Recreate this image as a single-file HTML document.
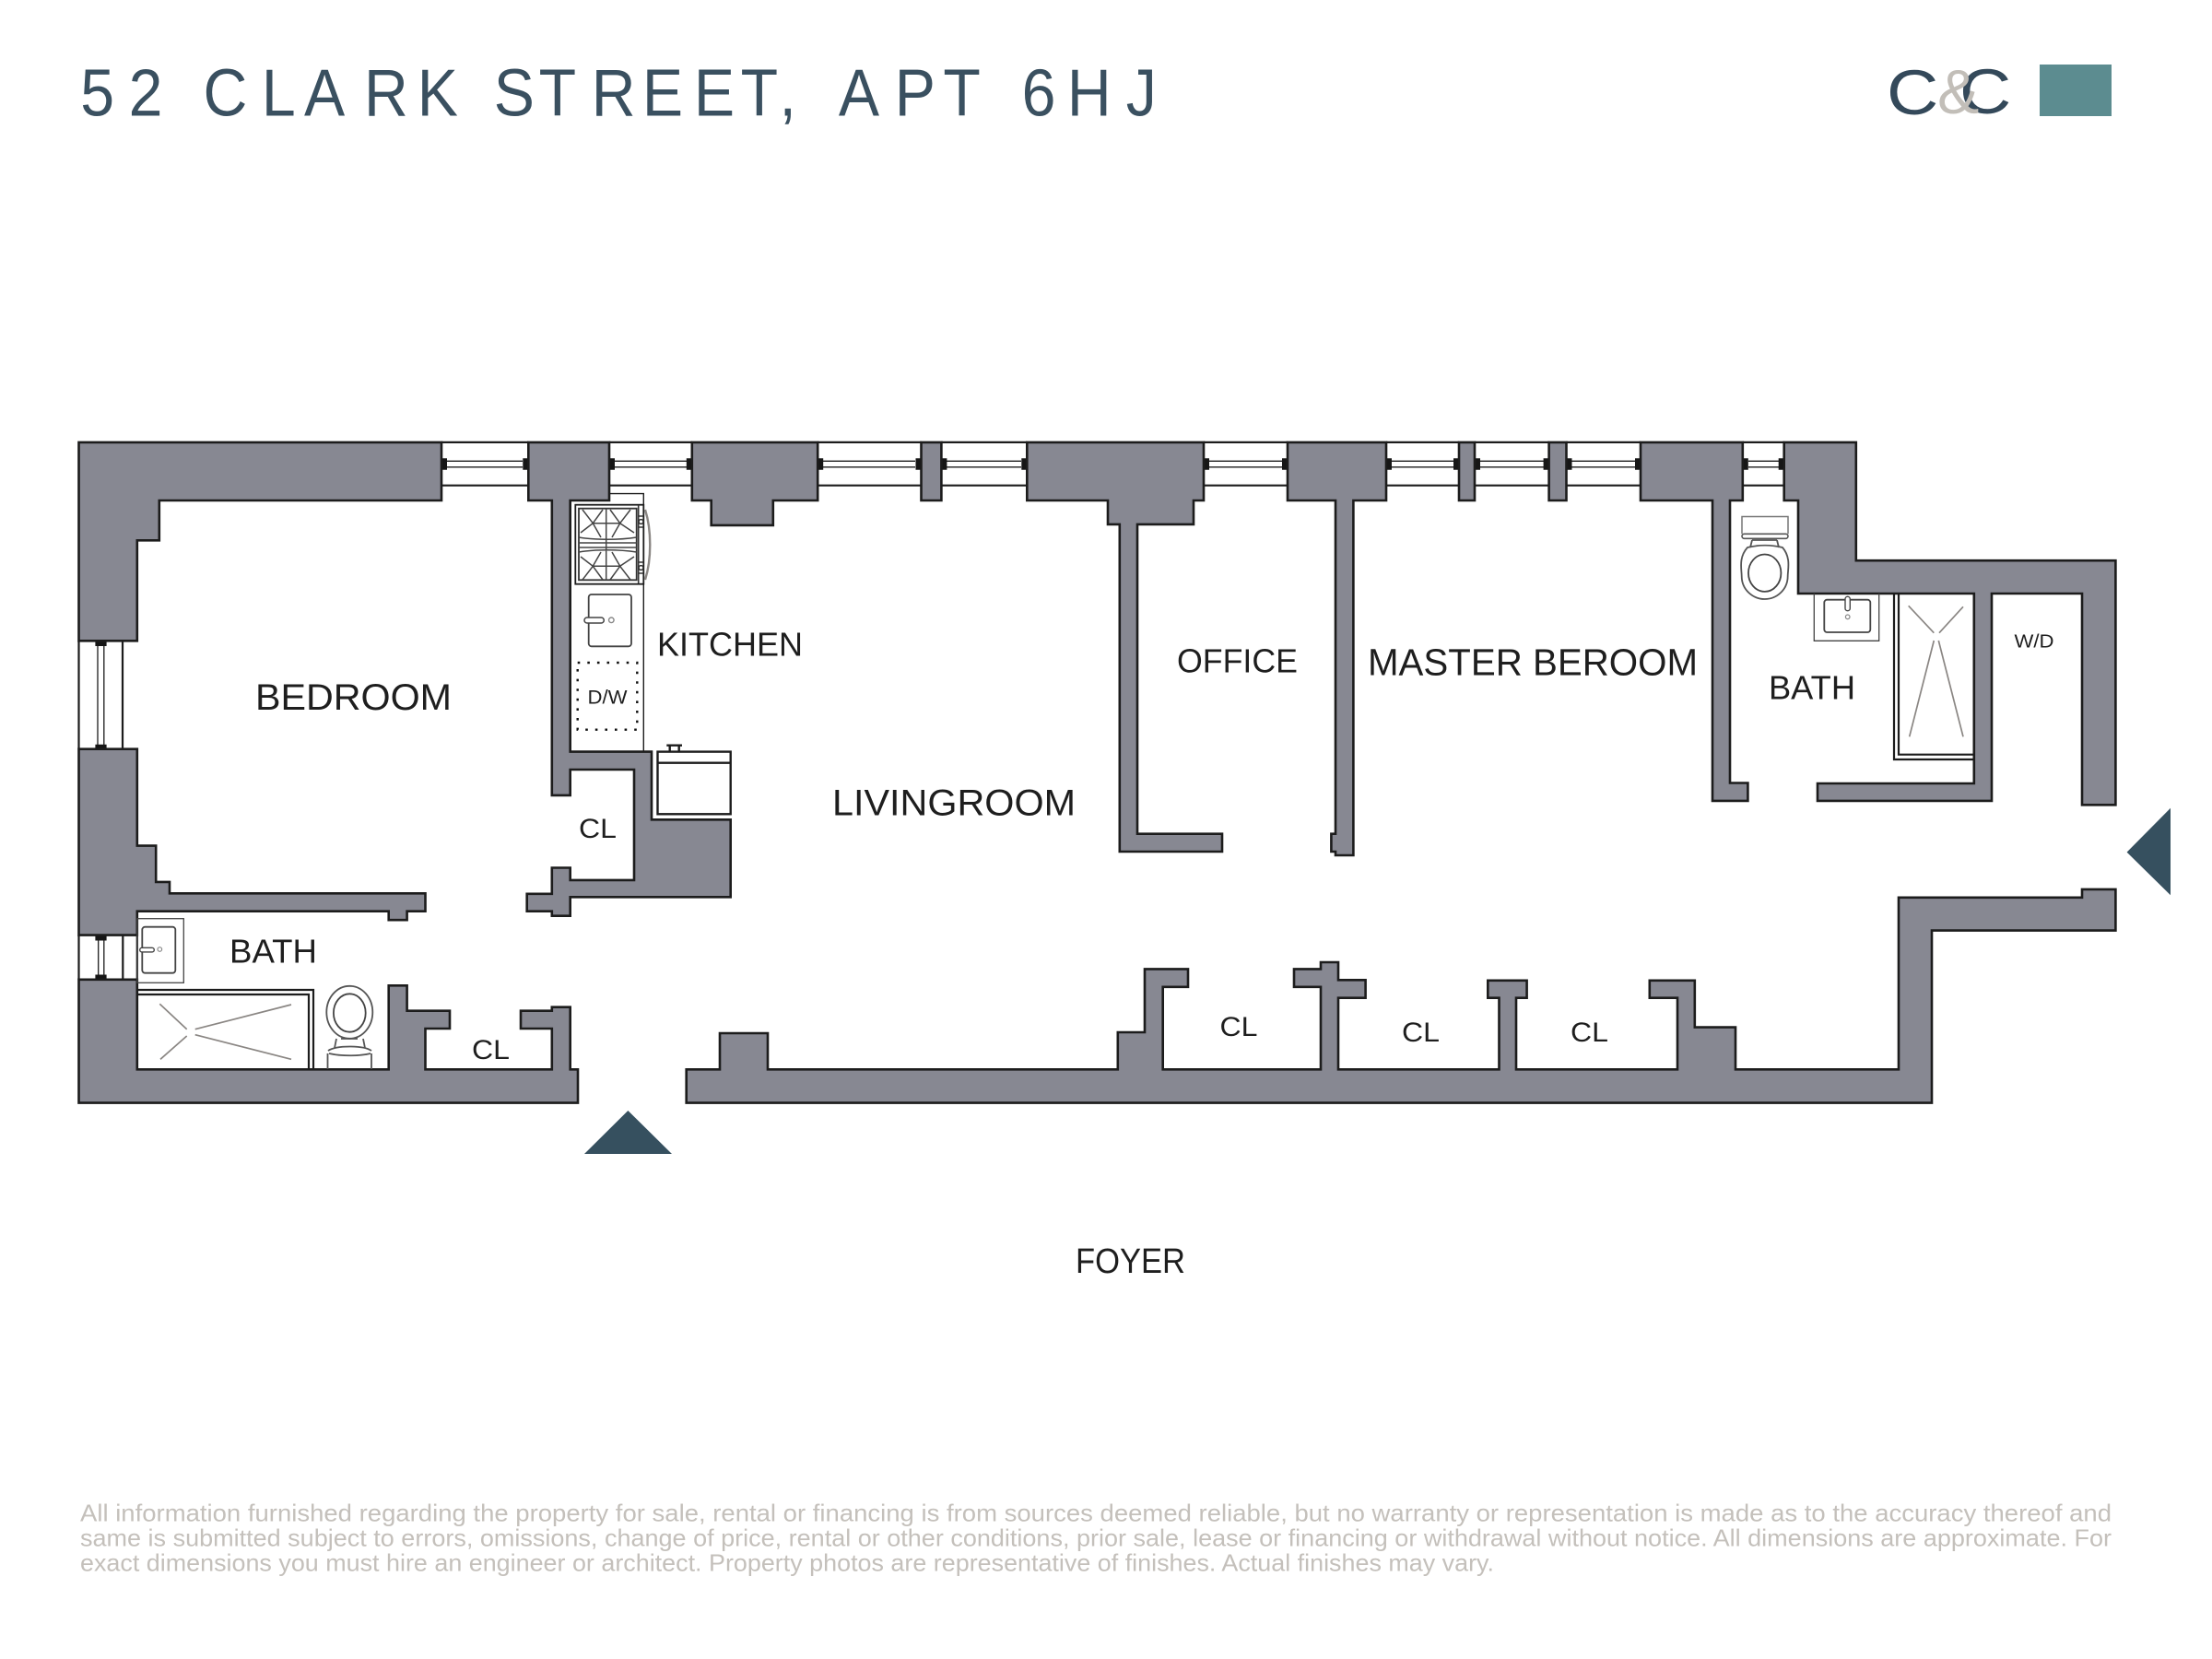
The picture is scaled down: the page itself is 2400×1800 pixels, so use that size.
<!DOCTYPE html>
<html><head><meta charset="utf-8"><title>52 Clark Street, Apt 6HJ</title>
<style>html,body{margin:0;padding:0;background:#fff}svg{display:block}text{font-family:"Liberation Sans",sans-serif;fill:#1e1e1e}</style></head>
<body>
<svg xmlns="http://www.w3.org/2000/svg" width="2400" height="1800" viewBox="0 0 2400 1800">
<rect width="2400" height="1800" fill="#fff"/>
<g transform="scale(.92 1)"><text y="125.3" font-size="72" style="fill:#3a5060" x="94.8 151.8 200 239.7 308.6 358.7 429.3 492.1 560 582.3 635.5 697.5 757.5 818.4 873.5 919 950 989 1055.2 1112.4 1180 1205 1258.6 1328">52 CLARK STREET, APT 6HJ</text></g>
<rect x="2213" y="70" width="78" height="56" fill="#5c8c90"/>
<text transform="translate(2047 124) scale(1.13 1)" font-size="69" style="fill:#34495a">C</text>
<text transform="translate(2126 123) scale(1.13 1)" font-size="69" style="fill:#34495a">C</text>
<text transform="translate(2102 123)" font-size="68" style="fill:#c2beb8">&amp;</text>

<g fill="none" stroke="#1c1c1c" stroke-width="2.2">
<path d="M479 479.9H573.3M479 526.7H573.3M661 479.9H750.8M661 526.7H750.8M887.2 479.9H999.5M887.2 526.7H999.5M1021.4 479.9H1114.3M1021.4 526.7H1114.3M1306 479.9H1397M1306 526.7H1397M1504 479.9H1583M1504 526.7H1583M1600 479.9H1680.6M1600 526.7H1680.6M1699.5 479.9H1780M1699.5 526.7H1780M1890.8 479.9H1935.7M1890.8 526.7H1935.7"/>
<path stroke-width="1.3" d="M485 500.3H567M485 506.8H567M667 500.3H745M667 506.8H745M893 500.3H993M893 506.8H993M1027 500.3H1108M1027 506.8H1108M1312 500.3H1391M1312 506.8H1391M1510 500.3H1577M1510 506.8H1577M1606 500.3H1675M1606 506.8H1675M1705 500.3H1774M1705 506.8H1774M1897 500.3H1930M1897 506.8H1930"/>
<path d="M85.5 695.3V812.7M133 695.3V812.7M85.5 1014.6V1062.8M133.3 1014.6V1062.8M148.8 1014.6V1062.8"/>
<path stroke-width="1.3" d="M106 700V810M112.8 700V810M106.7 1020V1058M112.8 1020V1058"/>
</g>
<path fill="#161616" d="M479 497.3h6v12.4h-6zM567.3 497.3h6v12.4h-6zM661 497.3h6v12.4h-6zM744.8 497.3h6v12.4h-6zM887.2 497.3h6v12.4h-6zM993.5 497.3h6v12.4h-6zM1021.4 497.3h6v12.4h-6zM1108.3 497.3h6v12.4h-6zM1306 497.3h6v12.4h-6zM1391 497.3h6v12.4h-6zM1504 497.3h6v12.4h-6zM1577 497.3h6v12.4h-6zM1600 497.3h6v12.4h-6zM1674.6 497.3h6v12.4h-6zM1699.5 497.3h6v12.4h-6zM1774 497.3h6v12.4h-6zM1890.8 497.3h6v12.4h-6zM1929.7 497.3h6v12.4h-6zM103.4 696h12.2v5h-12.2zM103.4 807.7h12.2v5h-12.2zM103.4 1015.5h12.2v5h-12.2zM103.4 1057.5h12.2v5h-12.2z"/>

<g fill="#878892" stroke="#1c1c1c" stroke-width="2.6" stroke-linejoin="miter">
<path d="M85.5 479.9H479V543H172.8V586.3H148.8V695.3H85.5Z"/>
<path d="M85.5 812.7H148.8V917.6H169.2V956.9H184V969.3H461.5V988.7H441.6V998.2H421.7V988.7H148.8V1014.6H85.5Z"/>
<path d="M85.5 1062.8H148.8V1160.3H421.7V1069.3H441.6V1096.7H488V1116H461.5V1160.3H598.8V1116H565V1096.7H598.8V1092.7H618.7V1160.3H627V1196.6H85.5Z"/>
<path d="M573.3 479.9H661V543H618.7V815.6H707V889.3H792.7V973.3H618.7V993.7H598.8V988.7H571.7V969.8H598.8V941.5H618.7V954.9H688V835H618.7V862.9H598.8V543H573.3Z"/>
<path d="M750.8 479.9H887.2V543H838.8V569.9H771.7V543H750.8Z"/>
<path d="M999.5 479.9H1021.4V543H999.5Z"/>
<path d="M1114.3 479.9H1306V543H1295V568.9H1234V904.7H1326V924H1214.8V568.9H1202V543H1114.3Z"/>
<path d="M1397 479.9H1504V543H1468.4V928H1449V924H1444.4V904.7H1449V543H1397Z"/>
<path d="M1583 479.9H1600V543H1583Z"/>
<path d="M1680.6 479.9H1699.5V543H1680.6Z"/>
<path d="M1780 479.9H1890.8V543H1877V849.5H1896.4V868.9H1858V543H1780Z"/>
<path d="M1935.7 479.9H2013.8V608.2H2295.4V873.3H2259V644H2161V868.9H1972V850H2141.8V644H1951V543H1935.7Z"/>
<path d="M744.7 1196.6V1160.3H781V1121H833V1160.3H1212.8V1120H1242V1051.4H1289V1070.8H1261.7V1160.3H1433V1070.8H1404V1051.4H1433V1044H1452V1063.3H1481.6V1082.7H1452V1160.3H1626.5V1082.7H1614.3V1063.8H1656.6V1082.7H1645V1160.3H1820V1082.7H1789.8V1063.8H1838.8V1114.6H1883V1160.3H2060V973.8H2259V964.9H2295.4V1009.6H2096V1196.6Z"/>
</g>

<path fill="#36505f" d="M681.4 1205L729 1252H634ZM2307.6 924.6L2355 876.8V971.3Z"/>

<!-- kitchen -->
<g fill="none" stroke="#1c1c1c">
<path stroke-width="1.4" d="M661 535.6H698.3V815.6"/>
<rect x="624.3" y="547.7" width="74" height="86" stroke-width="1.8"/>
<rect x="628" y="551.7" width="62.7" height="77.6" stroke="#333" stroke-width="1.8"/>
<path stroke="#444" stroke-width="1.5" d="M657.7 551.7V629.3M628 583C645 586 672 586 690.7 583M628 589H690.7M628 594H690.7M628 599C645 596 672 596 690.7 599M643.3 567.7H672.7M643.3 614.3H672.7M643.3 567.7L632 553M643.3 567.7L654 553M643.3 567.7L630 578M643.3 567.7L652 583M672.7 567.7L684 553M672.7 567.7L662 553M672.7 567.7L688 578M672.7 567.7L664 583M643.3 614.3L632 629M643.3 614.3L654 629M643.3 614.3L630 604M643.3 614.3L652 599M672.7 614.3L684 629M672.7 614.3L662 629M672.7 614.3L688 604M672.7 614.3L664 599"/>
<path stroke="#333" stroke-width="1.6" d="M692.7 548V633M692.7 560H698M692.7 572H698M692.7 610H698M692.7 622H698"/>
<circle cx="695.5" cy="566" r="2.4" stroke="#333" stroke-width="1.5"/><circle cx="695.5" cy="616" r="2.4" stroke="#333" stroke-width="1.5"/>
<path stroke="#8a8683" stroke-width="2.4" d="M700 553C707 575 707 607 700 629"/>
<rect x="638.7" y="645" width="46.3" height="56.3" rx="3" stroke="#444" stroke-width="1.8"/>
<rect x="634" y="670" width="21.3" height="6" rx="3" fill="#fff" stroke="#444" stroke-width="1.5"/>
<circle cx="663.3" cy="672.8" r="2.8" stroke="#888" stroke-width="1.4"/>
<rect x="626.7" y="719" width="64.6" height="72.7" stroke="#111" stroke-width="2.4" stroke-dasharray="2.6 8"/>
<rect x="713.5" y="815.6" width="79.2" height="67.7" stroke-width="2.4"/>
<path stroke-width="2.4" d="M713.5 827.7H792.7M723.3 808.7H740M726.7 808.7V815.6M736.7 808.7V815.6"/>
</g>

<!-- left bath -->
<g fill="none" stroke="#1c1c1c">
<rect x="149" y="996.7" width="50.3" height="69.6" stroke="#444" stroke-width="1.3"/>
<rect x="154.3" y="1005.7" width="36" height="50" rx="3" stroke="#444" stroke-width="1.8"/>
<rect x="151.7" y="1028.3" width="15.6" height="4.6" rx="2.3" fill="#fff" stroke="#444" stroke-width="1.4"/>
<circle cx="173.3" cy="1030" r="2.3" stroke="#888" stroke-width="1.2"/>
<path stroke-width="2.2" d="M149 1074H340V1160.3M149 1079H335V1160.3"/>
<path stroke="#8a8683" stroke-width="1.7" d="M173.3 1089.3L202.7 1116.7M174 1149.3L202.7 1124M211.7 1116.7L316 1090M211.7 1122.7L316 1149.3"/>
<ellipse cx="379.3" cy="1098.3" rx="25" ry="28.5" stroke="#555" stroke-width="1.8"/>
<ellipse cx="379.3" cy="1099" rx="17.4" ry="20.7" stroke="#444" stroke-width="1.8"/>
<path stroke="#555" stroke-width="1.8" d="M365 1127L363 1137M394 1127L396 1137M356 1140C365 1134 394 1134 403 1140M357 1143C370 1146 390 1146 402 1143M355.5 1143V1160M403 1143V1160M370 1127H388"/>
</g>

<!-- right bath -->
<g fill="none" stroke="#1c1c1c">
<path stroke="#777" stroke-width="1.5" d="M1890 579.3V560.5H1940V579.3"/>
<rect x="1890" y="579.3" width="50" height="5" rx="2.5" stroke="#555" stroke-width="1.6"/>
<path stroke="#555" stroke-width="1.8" d="M1901 586L1899 594M1928 586L1930 594M1901 586H1928"/>
<path stroke="#555" stroke-width="1.8" d="M1896 594C1886 605 1889.7 618 1889.7 625C1889.7 640 1902 650 1914.7 650C1927.5 650 1939.7 640 1939.7 625C1939.7 618 1943.5 605 1934 594C1922 591 1908 591 1896 594Z"/>
<ellipse cx="1914.7" cy="621.7" rx="17.7" ry="20.2" stroke="#444" stroke-width="1.8"/>
<path stroke="#444" stroke-width="1.3" d="M1968.3 644V695.3H2038.7V644"/>
<rect x="1979.3" y="650.7" width="50" height="35.3" rx="3" stroke="#444" stroke-width="1.8"/>
<rect x="2002" y="647.3" width="5.3" height="15.4" rx="2.6" fill="#fff" stroke="#444" stroke-width="1.4"/>
<circle cx="2004.7" cy="669.3" r="2.3" stroke="#888" stroke-width="1.2"/>
<path stroke-width="2.2" d="M2055 644V824H2141.7M2060 644V818.7H2141.7"/>
<path stroke="#8a8683" stroke-width="1.7" d="M2070.7 657.3L2098.3 686.7M2130 658.3L2104 686.7M2098.3 695L2071.7 799.3M2103.3 695L2130 799.3"/>
</g>

<!-- labels -->
<text x="277" y="770" font-size="40" textLength="213" lengthAdjust="spacingAndGlyphs">BEDROOM</text>
<text x="713" y="711.5" font-size="36" textLength="158" lengthAdjust="spacingAndGlyphs">KITCHEN</text>
<text x="628" y="909" font-size="30" textLength="41" lengthAdjust="spacingAndGlyphs">CL</text>
<text x="249" y="1044.5" font-size="36" textLength="95" lengthAdjust="spacingAndGlyphs">BATH</text>
<text x="512" y="1149" font-size="30" textLength="41" lengthAdjust="spacingAndGlyphs">CL</text>
<text x="637.5" y="763.5" font-size="21" textLength="43" lengthAdjust="spacingAndGlyphs">D/W</text>
<text x="903" y="884.5" font-size="40" textLength="264" lengthAdjust="spacingAndGlyphs">LIVINGROOM</text>
<text x="1277" y="729.5" font-size="36" textLength="131" lengthAdjust="spacingAndGlyphs">OFFICE</text>
<text x="1484" y="732.5" font-size="41" textLength="358" lengthAdjust="spacingAndGlyphs">MASTER BEROOM</text>
<text x="1919" y="758.5" font-size="36" textLength="94" lengthAdjust="spacingAndGlyphs">BATH</text>
<text x="2185.5" y="702.7" font-size="20" textLength="43" lengthAdjust="spacingAndGlyphs">W/D</text>
<text x="1323.5" y="1124" font-size="30" textLength="41" lengthAdjust="spacingAndGlyphs">CL</text>
<text x="1521" y="1130" font-size="30" textLength="41" lengthAdjust="spacingAndGlyphs">CL</text>
<text x="1704" y="1130" font-size="30" textLength="41" lengthAdjust="spacingAndGlyphs">CL</text>
<text x="1167" y="1381" font-size="38" textLength="119" lengthAdjust="spacingAndGlyphs">FOYER</text>

<g font-size="26" style="fill:#c4c0bb">
<text x="87" y="1650.7" style="fill:#c4c0bb" textLength="2204" lengthAdjust="spacingAndGlyphs">All information furnished regarding the property for sale, rental or financing is from sources deemed reliable, but no warranty or representation is made as to the accuracy thereof and</text>
<text x="87" y="1677.5" style="fill:#c4c0bb" textLength="2204" lengthAdjust="spacingAndGlyphs">same is submitted subject to errors, omissions, change of price, rental or other conditions, prior sale, lease or financing or withdrawal without notice. All dimensions are approximate. For</text>
<text x="87" y="1704.3" style="fill:#c4c0bb" textLength="1534" lengthAdjust="spacingAndGlyphs">exact dimensions you must hire an engineer or architect. Property photos are representative of finishes. Actual finishes may vary.</text>
</g>
</svg>
</body></html>
